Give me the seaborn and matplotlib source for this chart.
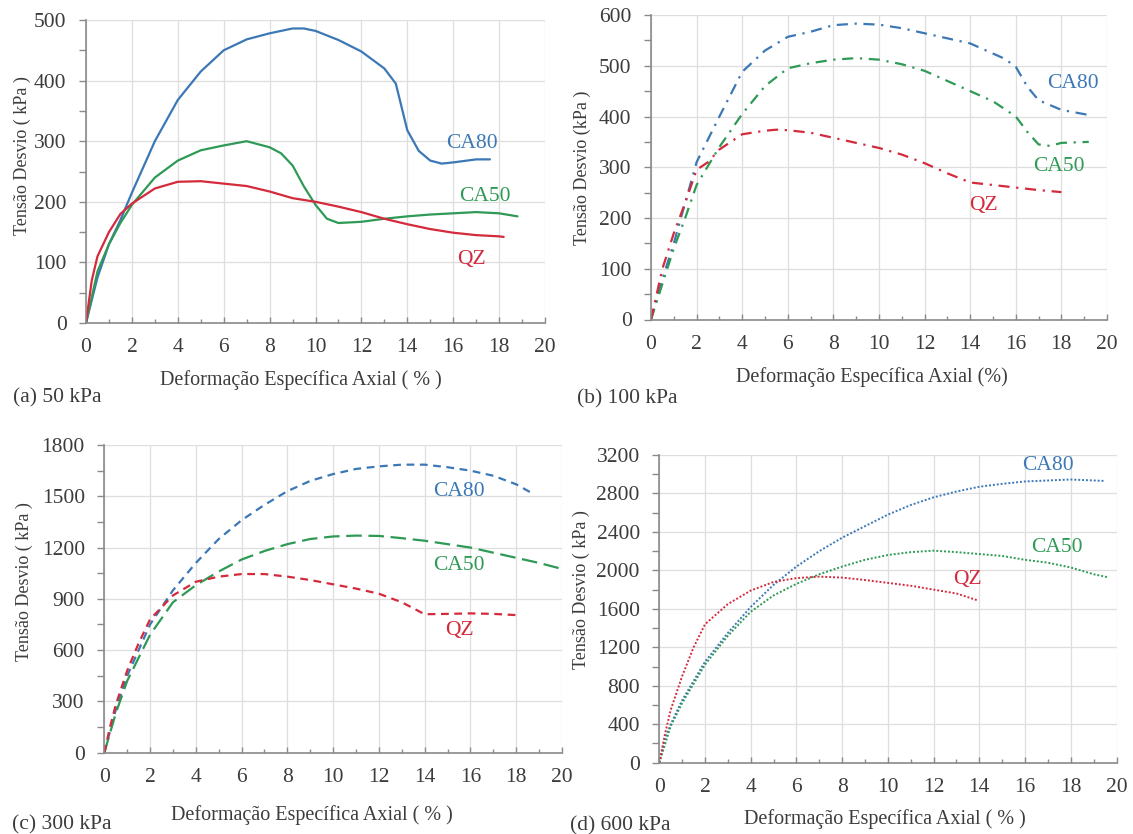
import numpy as np
import pandas as pd
import matplotlib
matplotlib.use("Agg")
import matplotlib.pyplot as plt
import seaborn as sns
from matplotlib.ticker import MultipleLocator

# ---------------- data ----------------
series_names = ["CA80", "CA50", "QZ"]
panel_titles = ["(a) 50 kPa", "(b) 100 kPa", "(c) 300 kPa", "(d) 600 kPa"]
xlabels = ["Deformação Específica Axial ( % )", "Deformação Específica Axial (%)",
           "Deformação Específica Axial ( % )", "Deformação Específica Axial ( % )"]
ylabels = ["Tensão Desvio ( kPa )", "Tensão Desvio (kPa )",
           "Tensão Desvio ( kPa )", "Tensão Desvio ( kPa )"]

# (a) 50 kPa
a_ca80_x = [0, 0.5, 1, 1.5, 2, 3, 4, 5, 6, 7, 8, 9, 9.5, 10, 11, 12, 13, 13.5, 14, 14.5, 15, 15.5, 16, 17, 17.6]
a_ca80_y = [0, 75, 130, 170, 215, 300, 368, 415, 450, 468, 478, 486, 486, 482, 467, 448, 420, 395, 318, 284, 268, 263, 265, 270, 270]
a_ca50_x = [0, 0.5, 1, 1.5, 2, 3, 4, 5, 6, 7, 8, 8.5, 9, 9.5, 10, 10.5, 11, 12, 13, 14, 15, 16, 17, 18, 18.8]
a_ca50_y = [0, 85, 130, 165, 195, 240, 268, 285, 293, 300, 290, 280, 260, 225, 195, 172, 165, 167, 172, 176, 179, 181, 183, 181, 176]
a_qz_x = [0, 0.25, 0.5, 1, 1.5, 2, 3, 4, 5, 6, 7, 8, 9, 10, 11, 12, 13, 14, 15, 16, 17, 18, 18.2]
a_qz_y = [0, 70, 110, 150, 180, 197, 222, 233, 234, 230, 226, 217, 206, 200, 192, 183, 172, 163, 155, 149, 145, 143, 142]

# (b) 100 kPa
b_ca80_x = [0, 0.5, 1, 1.5, 2, 3, 4, 5, 6, 7, 8, 9, 10, 11, 12, 13, 14, 15, 15.5, 16, 16.5, 17, 18, 19.2]
b_ca80_y = [0, 80, 150, 230, 310, 400, 488, 530, 557, 567, 580, 583, 581, 574, 564, 554, 544, 524, 514, 498, 459, 432, 413, 403]
b_ca50_x = [0, 0.5, 1, 1.5, 2, 3, 4, 5, 6, 7, 8, 9, 10, 11, 12, 13, 14, 15, 16, 16.5, 17, 17.5, 18, 19.2]
b_ca50_y = [0, 70, 140, 200, 265, 340, 405, 460, 495, 505, 512, 515, 512, 503, 490, 470, 450, 430, 400, 370, 345, 342, 348, 350]
b_qz_x = [0, 0.5, 1, 1.5, 2, 2.5, 3, 4, 5, 5.5, 6, 7, 8, 9, 10, 11, 12, 13, 14, 15, 16, 17, 18]
b_qz_y = [0, 100, 170, 230, 295, 310, 335, 365, 372, 374, 373, 368, 358, 348, 338, 325, 308, 288, 270, 265, 260, 255, 251]

# (c) 300 kPa
c_ca80_x = [0, 0.5, 1, 2, 3, 4, 5, 6, 7, 8, 9, 10, 11, 12, 13, 14, 15, 16, 17, 18, 18.8]
c_ca80_y = [0, 250, 450, 750, 950, 1110, 1250, 1360, 1450, 1530, 1590, 1630, 1660, 1675, 1685, 1685, 1670, 1650, 1620, 1570, 1510]
c_ca50_x = [0, 0.5, 1, 2, 3, 4, 5, 6, 7, 8, 9, 10, 11, 12, 13, 14, 15, 16, 17, 18, 19, 20]
c_ca50_y = [0, 230, 420, 690, 880, 980, 1060, 1130, 1180, 1220, 1250, 1265, 1270, 1268, 1255, 1240, 1220, 1200, 1170, 1140, 1110, 1075]
c_qz_x = [0, 0.25, 0.5, 1, 1.5, 2, 3, 4, 5, 6, 7, 8, 9, 10, 11, 12, 13, 14, 15, 16, 17, 18]
c_qz_y = [0, 150, 280, 480, 640, 780, 920, 1000, 1030, 1045, 1045, 1030, 1010, 985, 960, 930, 880, 810, 812, 815, 812, 805]

# (d) 600 kPa
d_ca80_x = [0, 0.25, 0.5, 1, 2, 3, 4, 5, 6, 7, 8, 9, 10, 11, 12, 13, 14, 15, 16, 17, 18, 19.5]
d_ca80_y = [0, 250, 400, 650, 1050, 1350, 1620, 1850, 2040, 2200, 2340, 2460, 2580, 2680, 2760, 2820, 2870, 2900, 2925, 2935, 2945, 2930]
d_ca50_x = [0, 0.5, 1, 2, 3, 4, 5, 6, 7, 8, 9, 10, 11, 12, 13, 14, 15, 16, 17, 18, 19, 19.6]
d_ca50_y = [0, 380, 620, 1020, 1320, 1570, 1740, 1860, 1960, 2040, 2110, 2160, 2190, 2205, 2190, 2170, 2150, 2110, 2080, 2030, 1960, 1930]
d_qz_x = [0, 0.25, 0.5, 1, 1.5, 2, 3, 4, 5, 6, 7, 8, 9, 10, 11, 12, 13, 13.9]
d_qz_y = [0, 300, 550, 900, 1200, 1440, 1650, 1790, 1880, 1920, 1935, 1925, 1900, 1870, 1840, 1800, 1760, 1690]

# y-axis limits/steps per panel
y_max = [500, 600, 1800, 3200]
y_step = [100, 100, 300, 400]

# label anchor (x, y) per panel for CA80, CA50, QZ
label_pos = [
    [(16.8, 296), (17.4, 208), (16.8, 104)],
    [(18.5, 465), (17.9, 301), (14.6, 225)],
    [(15.5, 1526), (15.5, 1096), (15.5, 714)],
    [(17.0, 3088), (17.4, 2243), (13.5, 1907)],
]

# ---------------- style ----------------
sns.set_theme(style="whitegrid")
plt.rcParams['font.family'] = ['Liberation Serif', 'DejaVu Serif']

colors = {"CA80": "#3b78b5", "CA50": "#2e9a55", "QZ": "#d42a3c"}
text_color = "#3c3c3c"
axis_color = "#8a8a8a"

dashdot = (0, (5, 3, 1, 3))
styles = [
    {"CA80": "-", "CA50": "-", "QZ": "-"},
    {"CA80": dashdot, "CA50": dashdot, "QZ": dashdot},
    {"CA80": (0, (3.5, 2.5)), "CA50": (0, (7, 3)), "QZ": (0, (3.5, 2.5))},
    {"CA80": (0, (1, 1)), "CA50": (0, (1, 1)), "QZ": (0, (1, 1))},
]
widths = [1.6, 1.6, 1.6, 1.4]

data = [
    [(a_ca80_x, a_ca80_y), (a_ca50_x, a_ca50_y), (a_qz_x, a_qz_y)],
    [(b_ca80_x, b_ca80_y), (b_ca50_x, b_ca50_y), (b_qz_x, b_qz_y)],
    [(c_ca80_x, c_ca80_y), (c_ca50_x, c_ca50_y), (c_qz_x, c_qz_y)],
    [(d_ca80_x, d_ca80_y), (d_ca50_x, d_ca50_y), (d_qz_x, d_qz_y)],
]

W, H = 1133, 834
fig = plt.figure(figsize=(W / 100, H / 100), dpi=100)
fig.patch.set_facecolor("white")

# axes boxes in pixels: left, right, top, bottom
px_boxes = [
    (86, 545, 20, 323),
    (651, 1107, 15, 319.5),
    (104.3, 562, 445, 752.7),
    (659.3, 1116.5, 455, 762.7),
]
xlabel_px = [(301, 380), (872, 377), (312, 815), (885, 819)]
ylabel_px = [(22, 156), (582, 168), (24, 582), (581, 590)]
title_px = [(12.7, 398), (576.7, 399), (11.7, 825), (570, 826)]


def fx(px):
    return px / W


def fy(py):
    return 1 - py / H


for i in range(4):
    l, r, t, b = px_boxes[i]
    ax = fig.add_axes([fx(l), fy(b), (r - l) / W, (b - t) / H])
    ax.set_facecolor("white")
    for j, name in enumerate(series_names):
        xs, ys = data[i][j]
        df = pd.DataFrame({"x": xs, "y": ys})
        sns.lineplot(data=df, x="x", y="y", ax=ax, color=colors[name],
                     linestyle=styles[i][name], linewidth=widths[i],
                     sort=False, estimator=None)
        lx, ly = label_pos[i][j]
        ax.text(lx, ly, name, color=colors[name], fontsize=15.5,
                ha="center", va="center")
    ax.set_xlim(0, 20)
    ax.set_ylim(0, y_max[i])
    ax.xaxis.set_major_locator(MultipleLocator(2))
    ax.xaxis.set_minor_locator(MultipleLocator(1))
    ax.yaxis.set_major_locator(MultipleLocator(y_step[i]))
    ax.yaxis.set_minor_locator(MultipleLocator(y_step[i] / 2))
    ax.grid(True, which="major", color="#dedede", linewidth=0.9)
    ax.set_axisbelow(True)
    for s in ["top", "right"]:
        ax.spines[s].set_visible(False)
    for s in ["left", "bottom"]:
        ax.spines[s].set_color(axis_color)
        ax.spines[s].set_linewidth(1.2)
    ax.tick_params(axis="x", which="major", direction="in", length=4, width=1,
                   color=axis_color, labelsize=15.5, labelcolor=text_color,
                   bottom=True, pad=11)
    ax.tick_params(axis="x", which="minor", direction="in", length=3, width=1,
                   color=axis_color, bottom=True)
    ax.tick_params(axis="y", which="both", direction="out", length=5, width=1,
                   color=axis_color, labelsize=15.5, labelcolor=text_color,
                   left=True, pad=9)
    ax.set_xlabel("")
    ax.set_ylabel("")
    xl, yl = xlabel_px[i]
    fig.text(fx(xl), fy(yl), xlabels[i], fontsize=14.5, color=text_color,
             ha="center", va="center")
    yx, yy = ylabel_px[i]
    fig.text(fx(yx), fy(yy), ylabels[i], fontsize=13, color=text_color,
             ha="center", va="center", rotation=90)
    tx, ty = title_px[i]
    fig.text(fx(tx), fy(ty), panel_titles[i], fontsize=15.5,
             color=text_color, ha="left", va="center")

fig.savefig("out.png", dpi=100, facecolor="white")
